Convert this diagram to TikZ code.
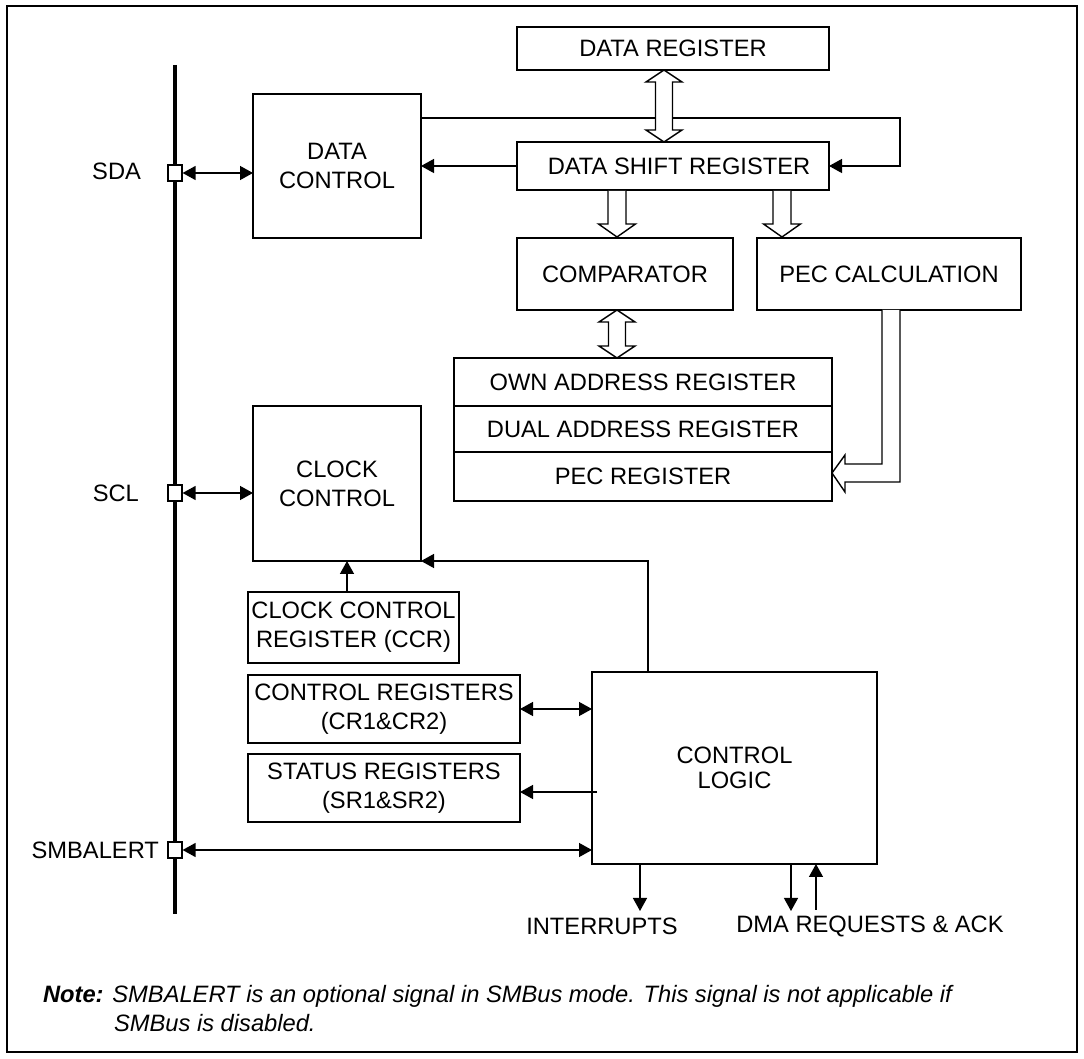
\documentclass[tikz,border=0pt]{standalone}
\usepackage{fontspec}
\setmainfont{Liberation Sans}
\usetikzlibrary{arrows.meta,positioning}
\tikzstyle{arrow} = [line width=0.65pt,-{Triangle[length=6.5pt,width=7pt]}]
\tikzstyle{biarrow} = [line width=0.65pt,{Triangle[length=6.5pt,width=7pt]}-{Triangle[length=6.5pt,width=7pt]}]

% hollow bus arrows (x, start, tip) and (x, tip, tip)
\newcommand{\fatdown}[3]{%
  \draw[line width=0.7pt, fill=white] ({#1-9},#2) -- ({#1-9},{#3-13}) -- ({#1-18.5},{#3-13}) -- (#1,#3)
    -- ({#1+18.5},{#3-13}) -- ({#1+9},{#3-13}) -- ({#1+9},#2);}
\newcommand{\fatboth}[3]{%
  \draw[line width=0.7pt, fill=white] (#1,#2) -- ({#1+18},{#2+12}) -- ({#1+8.5},{#2+12}) -- ({#1+8.5},{#3-12})
    -- ({#1+18},{#3-12}) -- (#1,#3) -- ({#1-18},{#3-12}) -- ({#1-8.5},{#3-12}) -- ({#1-8.5},{#2+12})
    -- ({#1-18},{#2+12}) -- cycle;}

\begin{document}
\begin{tikzpicture}[x=0.5pt, y=-0.5pt,
    every node/.style={font=\fontsize{11.85}{14.5}\selectfont},
    block/.style={rectangle, draw, line width=0.9pt, inner sep=0pt, outer sep=0pt, align=center},
    buspad/.style={rectangle, draw, fill=white, line width=0.6pt, minimum width=7pt, minimum height=8pt, inner sep=0pt}]

\useasboundingbox (0,0) rectangle (1084,1059);
\draw[line width=1pt] (7,6) rectangle (1077,1052);

% Bus and pins
\coordinate (bustop) at (175,65);
\coordinate (busbot) at (175,914);
\draw[line width=1.65pt] (bustop) -- (busbot);
\node[buspad] (sda) at (175,173) {};
\node[buspad] (scl) at (175,493) {};
\node[buspad] (smb) at (175,850) {};
\node[anchor=east] (sdalbl) at (148,171) {SDA};
\node[anchor=east] (scllbl) at (146,493) {SCL};
\node[anchor=east] (smblbl) at (166,850) {SMBALERT};

% Data path
\node[block, minimum width=84pt, minimum height=72pt] (dc) at (337,166) {DATA\\CONTROL};
\node[block, minimum width=156pt, minimum height=21.5pt] (dr) at (673,48.5) {DATA REGISTER};
\node[block, minimum width=156pt, minimum height=24pt] (dsr) at (673,166) {\hspace*{6pt}DATA SHIFT REGISTER};
\node[block, minimum width=108pt, minimum height=36pt] (cmp) at (625,274) {COMPARATOR};
\node[block, minimum width=132pt, minimum height=36pt] (pecc) at (889,274) {PEC CALCULATION};

% Address registers
\node[block, minimum width=189pt, minimum height=24pt] (own) at (643,382) {OWN ADDRESS REGISTER};
\node[block, minimum width=189pt, minimum height=23pt, below=0pt of own] (dual) {DUAL ADDRESS REGISTER};
\node[block, minimum width=189pt, minimum height=24.5pt, below=0pt of dual] (pecr) {PEC REGISTER};
\draw[line width=1.3pt] (dual.south west) -- (dual.south east);

% Clock and control
\node[block, minimum width=84pt, minimum height=77.5pt] (cc) at (337,483.5) {CLOCK\\CONTROL};
\node[block, minimum width=105.5pt, minimum height=35.5pt] (ccr) at (353.5,627.5) {CLOCK CONTROL\\REGISTER (CCR)};
\node[block, minimum width=136pt, minimum height=34pt] (cr) at (384,709) {CONTROL REGISTERS\\(CR1\&CR2)};
\node[block, minimum width=136pt, minimum height=34pt] (sr) at (384,788) {STATUS REGISTERS\\(SR1\&SR2)};
\node[block, minimum width=142.5pt, minimum height=96pt, font=\fontsize{11.85}{12.5}\selectfont] (cl) at (734.5,768) {CONTROL\\LOGIC};

% Outputs
\node (intlbl) at (602,926) {INTERRUPTS};
\node (dmalbl) at (870,926) {DMA REQUESTS \& ACK};

% Note
\node[anchor=north west, align=left] (note) at (36,978) {\textbf{\textit{Note:}} \textit{SMBALERT is an optional signal in SMBus mode. This signal is not applicable if}\\\hspace*{35.5pt}\textit{SMBus is disabled.}};

% Connectors
\draw[biarrow] (sda.east) -- (dc.west |- sda.east);
\draw[biarrow] (scl.east) -- (cc.west |- scl.east);
\draw[biarrow] (smb.east) -- (cl.west |- smb.east);
\draw[arrow] (dsr.west) -- (dc.east |- dsr.west);
\coordinate (fbr) at (900,118);
\draw[arrow] (dc.east |- fbr) -- (fbr) |- (dsr.east);
\coordinate (ccrtop) at (347,592);
\draw[arrow] (ccrtop) -- (ccrtop |- cc.south);
\coordinate (clup) at (648,672);
\draw[arrow] (clup) |- (cc.south east);
\draw[biarrow] (cr.east) -- (cl.west |- cr.east);
\coordinate (srsrc) at (597,792);
\draw[arrow] (srsrc) -- (sr.east |- srsrc);
\coordinate (intend) at (640,911);
\draw[arrow] (cl.south -| intend) -- (intend);
\coordinate (dmaout) at (791,911);
\draw[arrow] (cl.south -| dmaout) -- (dmaout);
\coordinate (dmain) at (816,910);
\draw[arrow] (dmain) -- (cl.south -| dmain);

% Hollow bus arrows
\fatboth{664}{70}{142}
\fatdown{617}{191}{237}
\fatdown{782}{191}{237}
\fatboth{617}{310}{358}
\draw[line width=0.7pt, fill=white] (882,310) -- (882,464) -- (845,464) -- (845,455) -- (832,473)
  -- (845,492) -- (845,482) -- (900,482) -- (900,310);

\end{tikzpicture}
\end{document}
